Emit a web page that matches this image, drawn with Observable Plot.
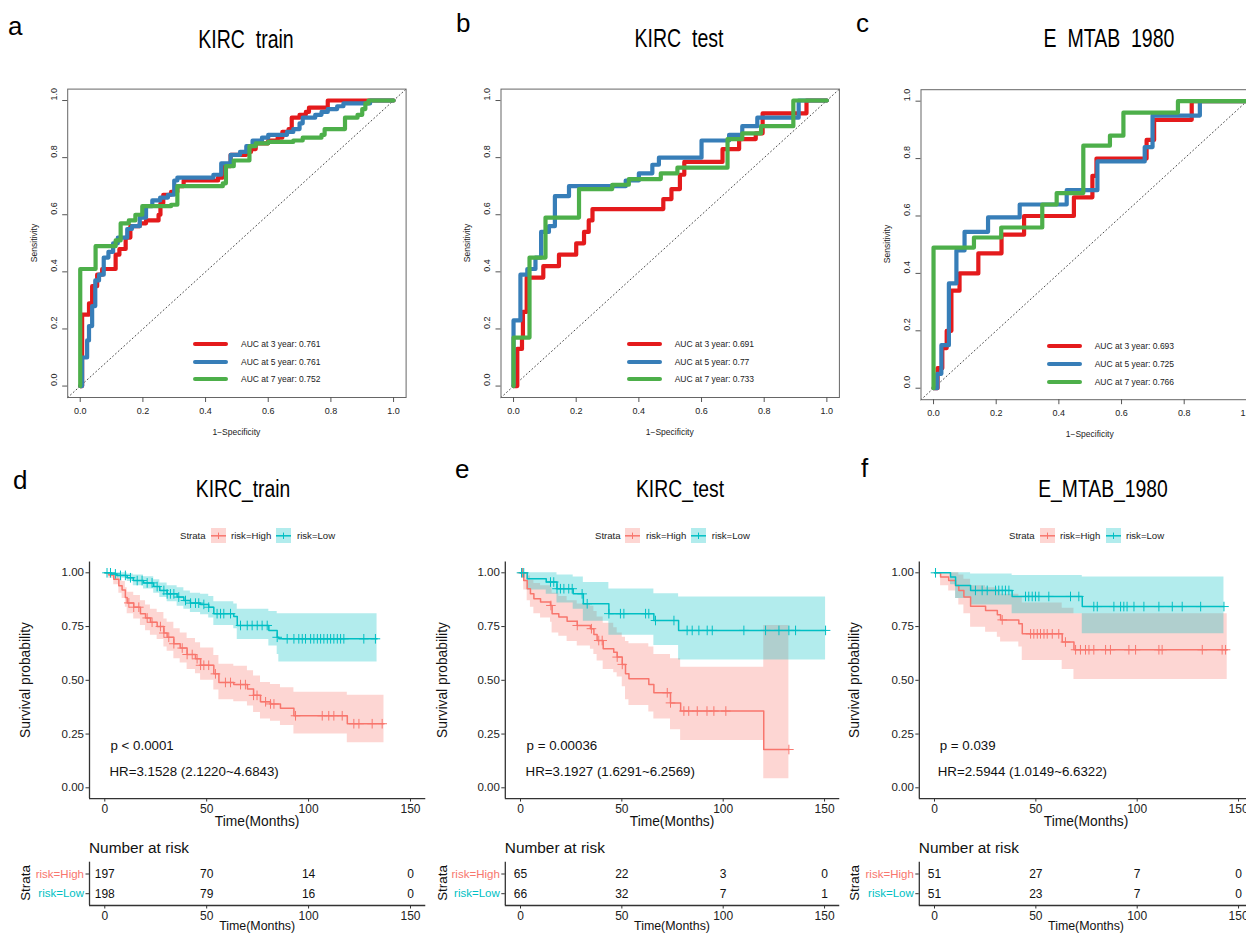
<!DOCTYPE html>
<html><head><meta charset="utf-8">
<script src="https://cdn.jsdelivr.net/npm/d3@7"></script>
<script src="https://cdn.jsdelivr.net/npm/@observablehq/plot@0.6"></script>
<style>
html,body{margin:0;padding:0;width:1246px;height:933px;overflow:hidden;background:#fff;}
#root{position:relative;width:1246px;height:933px;overflow:hidden;font-family:"Liberation Sans",Arial,Helvetica,sans-serif;color:#1a1a1a;}
.abs{position:absolute;}
.t{position:absolute;white-space:pre;line-height:1;}
</style></head><body><div id="root"></div><script>
// ---------------- DATA ----------------
// ROC curves: [1-specificity, sensitivity] corner points
const rocA3 = [[0,0],[0.006,0.25],[0.028,0.29],[0.038,0.35],[0.054,0.39],[0.07,0.41],[0.113,0.46],[0.125,0.48],[0.145,0.52],[0.16,0.56],[0.19,0.57],[0.21,0.58],[0.25,0.6],[0.256,0.64],[0.265,0.67],[0.29,0.68],[0.31,0.7],[0.33,0.72],[0.44,0.73],[0.455,0.77],[0.48,0.81],[0.53,0.82],[0.545,0.83],[0.56,0.85],[0.6,0.86],[0.63,0.87],[0.645,0.89],[0.665,0.9],[0.675,0.94],[0.7,0.95],[0.72,0.96],[0.73,0.975],[0.79,1],[1,1]];
const rocA5 = [[0,0],[0.006,0.1],[0.022,0.16],[0.028,0.21],[0.038,0.28],[0.048,0.37],[0.06,0.39],[0.075,0.45],[0.09,0.47],[0.105,0.5],[0.12,0.52],[0.15,0.55],[0.165,0.56],[0.19,0.59],[0.21,0.63],[0.23,0.65],[0.255,0.66],[0.28,0.67],[0.3,0.72],[0.31,0.73],[0.425,0.74],[0.45,0.78],[0.48,0.81],[0.51,0.82],[0.53,0.84],[0.55,0.86],[0.58,0.87],[0.6,0.88],[0.66,0.89],[0.68,0.9],[0.7,0.92],[0.71,0.94],[0.75,0.95],[0.77,0.96],[0.79,0.97],[0.82,0.98],[0.84,0.99],[0.925,1],[1,1]];
const rocA7 = [[0,0],[0,0.41],[0.049,0.49],[0.113,0.51],[0.129,0.57],[0.155,0.58],[0.176,0.6],[0.198,0.63],[0.29,0.635],[0.31,0.7],[0.455,0.71],[0.465,0.77],[0.49,0.79],[0.54,0.84],[0.56,0.85],[0.6,0.855],[0.68,0.86],[0.71,0.87],[0.77,0.88],[0.78,0.9],[0.845,0.94],[0.885,0.95],[0.9,0.97],[0.91,0.99],[0.92,1],[1,1]];
const rocB3 = [[0,0],[0.012,0.13],[0.027,0.17],[0.03,0.26],[0.042,0.38],[0.095,0.42],[0.145,0.46],[0.2,0.5],[0.225,0.54],[0.24,0.58],[0.252,0.62],[0.478,0.655],[0.504,0.69],[0.531,0.74],[0.545,0.785],[0.667,0.83],[0.72,0.865],[0.773,0.885],[0.795,0.955],[0.935,1],[1,1]];
const rocB5 = [[0,0],[0,0.23],[0.022,0.39],[0.044,0.41],[0.07,0.45],[0.088,0.54],[0.113,0.56],[0.132,0.665],[0.177,0.7],[0.358,0.72],[0.4,0.745],[0.443,0.775],[0.464,0.8],[0.6,0.86],[0.688,0.88],[0.73,0.91],[0.778,0.94],[0.91,1],[1,1]];
const rocB7 = [[0,0],[0,0.17],[0.051,0.45],[0.102,0.59],[0.209,0.69],[0.315,0.705],[0.368,0.725],[0.47,0.745],[0.523,0.765],[0.683,0.865],[0.73,0.885],[0.79,0.91],[0.893,1],[1,1]];
const rocC3 = [[0,0],[0.013,0.07],[0.028,0.14],[0.042,0.2],[0.057,0.34],[0.083,0.4],[0.143,0.47],[0.217,0.535],[0.289,0.6],[0.448,0.665],[0.507,0.74],[0.52,0.8],[0.68,0.865],[0.704,0.935],[0.824,1],[1,1]];
const rocC5 = [[0,0],[0.012,0.05],[0.025,0.15],[0.049,0.365],[0.073,0.48],[0.099,0.545],[0.174,0.595],[0.275,0.64],[0.425,0.69],[0.523,0.79],[0.674,0.84],[0.699,0.95],[0.85,1],[1,1]];
const rocC7 = [[0,0],[0,0.49],[0.129,0.525],[0.216,0.56],[0.347,0.64],[0.393,0.68],[0.478,0.845],[0.563,0.88],[0.606,0.96],[0.78,1],[1,1]];
const aucA = ["0.761","0.761","0.752"];
const aucB = ["0.691","0.77","0.733"];
const aucC = ["0.693","0.725","0.766"];
const aucYears = [3,5,7];
const rocTicks = [0,0.2,0.4,0.6,0.8,1];

// KM steps: [time, survival, lower, upper]
const kmD_high = [[0,1,1,1],[2,0.99,0.975,1],[4.4,0.97,0.945,0.995],[6.9,0.94,0.905,0.975],[8.5,0.92,0.88,0.96],[10.1,0.885,0.84,0.93],[11,0.86,0.81,0.91],[14.2,0.84,0.785,0.895],[17.5,0.81,0.755,0.87],[20,0.79,0.73,0.85],[22.4,0.77,0.71,0.83],[25.7,0.75,0.69,0.815],[29,0.72,0.655,0.785],[30.6,0.7,0.635,0.77],[33.9,0.67,0.6,0.74],[37,0.65,0.58,0.72],[40.4,0.62,0.55,0.695],[44.5,0.6,0.53,0.675],[47,0.57,0.5,0.65],[53.5,0.53,0.455,0.615],[56,0.49,0.41,0.575],[63.3,0.48,0.4,0.565],[70,0.46,0.38,0.545],[73,0.43,0.35,0.52],[76.4,0.4,0.32,0.49],[81.3,0.39,0.31,0.48],[86.2,0.37,0.29,0.465],[92.8,0.335,0.25,0.445],[119,0.298,0.21,0.43],[137,0.298,0.21,0.43]];
const kmD_low = [[0,1,1,1],[3,0.995,0.985,1],[6,0.988,0.975,1],[11,0.977,0.96,0.995],[14,0.964,0.94,0.99],[19,0.953,0.925,0.982],[24,0.936,0.905,0.968],[27,0.918,0.885,0.953],[30.6,0.902,0.865,0.94],[35.5,0.887,0.845,0.93],[38.8,0.871,0.83,0.915],[42,0.859,0.815,0.905],[47,0.853,0.805,0.9],[51,0.84,0.79,0.89],[53.5,0.81,0.755,0.865],[63.3,0.797,0.74,0.855],[65,0.755,0.69,0.83],[80.5,0.732,0.66,0.82],[84.6,0.7,0.62,0.81],[85.4,0.693,0.585,0.81],[133.6,0.693,0.585,0.81]];
const kmE_high = [[0,1,1,1],[1.6,0.964,0.92,1],[3.3,0.926,0.87,0.985],[4.9,0.902,0.84,0.965],[6.6,0.879,0.81,0.95],[9.9,0.864,0.79,0.94],[14.8,0.848,0.77,0.93],[15.6,0.81,0.72,0.905],[18.9,0.794,0.705,0.89],[23,0.775,0.68,0.87],[28,0.755,0.66,0.855],[34.5,0.74,0.645,0.845],[36.2,0.713,0.62,0.82],[37.8,0.685,0.59,0.795],[40.8,0.647,0.55,0.765],[46,0.631,0.535,0.745],[47.7,0.608,0.515,0.72],[50.2,0.574,0.47,0.7],[51.8,0.53,0.41,0.68],[53.5,0.507,0.383,0.67],[63.3,0.481,0.352,0.655],[65.8,0.442,0.32,0.62],[74,0.395,0.27,0.6],[79,0.357,0.22,0.561],[120,0.178,0.042,0.755],[132.4,0.178,0.042,0.755]];
const kmE_low = [[0,1,1,1],[3.3,0.972,0.92,1],[12.7,0.957,0.9,1],[18,0.926,0.86,0.99],[26,0.902,0.83,0.98],[31,0.856,0.775,0.955],[43.6,0.81,0.71,0.925],[65.8,0.778,0.662,0.902],[78,0.732,0.595,0.887],[150.5,0.732,0.595,0.887]];
const kmF_high = [[0,1,1,1],[3,0.98,0.94,1],[7,0.964,0.915,1],[10.4,0.941,0.88,1],[12,0.918,0.85,0.99],[14.5,0.887,0.81,0.97],[17.8,0.845,0.747,0.94],[25.2,0.825,0.724,0.93],[31,0.805,0.7,0.915],[32.6,0.781,0.678,0.9],[41.6,0.763,0.655,0.89],[43.3,0.716,0.592,0.86],[63,0.678,0.55,0.835],[68.8,0.642,0.504,0.81],[144.4,0.642,0.504,0.81]];
const kmF_low = [[0,1,1,1],[7.9,0.98,0.945,1],[10.4,0.941,0.88,1],[17.8,0.918,0.85,0.995],[38.3,0.89,0.81,0.988],[72.9,0.843,0.716,0.98],[142.8,0.843,0.716,0.98]];

// censoring times (months)
const censD_high = [11.8,14.2,16.7,20.8,23.2,27.3,29,31.4,33.9,38,40.4,42.9,45.3,47,48.6,51,54.3,59.2,61.7,66.6,69,73,74.7,78.9,81.3,83,93.6,106.7,109.9,112.4,116.5,122.2,124.7,131.2,136.1];
const censD_low = [1.1,2.8,5.2,7.7,10.1,12.6,15.9,18.3,20.8,23.2,25.7,29,30.6,32.2,33.9,36.3,39.6,42.1,44.5,46.1,48.6,51,55.1,56.8,58.4,61.7,66.6,69.9,72.3,74.8,77.2,79.7,84.6,89.5,92.8,95.2,96.9,98.5,101,102.6,104.3,105.9,107.5,109.2,110.8,112.4,114.1,115.7,117.3,127.1,132.8];
const censE_high = [1,15,28,35,38.6,40.3,47.7,50.2,72.4,74,80.6,83,87.2,92,95.4,101.3,132.4];
const censE_low = [0.5,1.6,14.8,16.4,18,19.7,21.4,23.8,25.5,30.4,32.9,43.6,49.3,51,61.7,63.3,66.6,75.7,82.2,84.7,88,92.1,94.6,110.2,120.9,127.5,132.4,135.7,150.5];
const censF_high = [33.4,47.4,49,50.7,52.3,54,55.6,58.1,61.3,64.6,69.6,72,74.5,76.2,78.6,84.4,86.8,95.9,99.2,110.7,112.3,132.1,141.9,143.6];
const censF_low = [0.5,20.2,23.5,26,30.1,31.7,33.4,35,36.7,44.9,46.5,48.2,49.8,51.5,56.4,67.1,71.2,78.6,80.3,88.5,91.8,93.4,95,98.4,103.3,110.7,117.3,122.2,131.3,142.8];

// numbers at risk
const riskTimes = [0,50,100,150];
const riskGroups = ["risk=High","risk=Low"];
const riskD_high = [197,70,14,0], riskD_low = [198,79,16,0];
const riskE_high = [65,22,3,0],  riskE_low = [66,32,7,1];
const riskF_high = [51,27,7,0],  riskF_low = [51,23,7,0];

const kmTicksX = [0,50,100,150];
const kmTicksY = [0,0.25,0.5,0.75,1];

// ---------------- RENDER ----------------
const FONT = '"Liberation Sans", Arial, Helvetica, sans-serif';
const RED="#E41A1C", BLUE="#377EB8", GREEN="#4DAF4A", HI="#F8766D", LO="#00BFC4";
const root = document.getElementById("root");

function txt(s, x, cy, o={}) {
  const {size=12, anchor="start", rotate=0, color="#1a1a1a", sx=1} = o;
  const d=document.createElement("div");
  d.className="t"; d.textContent=s;
  Object.assign(d.style,{left:x+"px",top:cy+"px",fontSize:size+"px",color});
  const tx = anchor==="start"?"0%":anchor==="middle"?"-50%":"-100%";
  const ox = anchor==="start"?"0%":anchor==="middle"?"50%":"100%";
  d.style.transformOrigin = `${ox} 50%`;
  d.style.transform = `translate(${tx},-50%)` + (rotate?` rotate(${rotate}deg)`:"") + (sx!==1?` scaleX(${sx})`:"");
  root.appendChild(d);
}
function place(svg, left, top, w) {
  const d=document.createElement("div");
  d.className="abs"; d.style.left=left+"px"; d.style.top=top+"px"; d.style.width=w+"px";
  d.appendChild(svg); root.appendChild(d);
}
function survAt(steps, t) {
  let s = steps[0][1];
  for (const st of steps) { if (st[0] <= t) s = st[1]; else break; }
  return s;
}

// ROC panels
function rocPanel(cfg) {
  const W=430, H=450, dom=[-0.04,1.04];
  const colors=[RED,BLUE,GREEN];
  const svg = Plot.plot({
    width:W, height:H, marginLeft:cfg.mL, marginRight:W-cfg.mL-338.4, marginTop:cfg.mT, marginBottom:cfg.mB,
    x:{domain:dom}, y:{domain:dom},
    style:{fontFamily:FONT, background:"transparent", overflow:"visible", maxWidth:"none"},
    marks:[
      Plot.line(dom.map(v=>[v,v]), {x:d=>d[0], y:d=>d[1], stroke:"#333", strokeWidth:0.9, strokeDasharray:"1,2.8"}),
      ...cfg.curves.map((c,i)=>Plot.line(c, {x:d=>d[0], y:d=>d[1], curve:"step-after", stroke:colors[i], strokeWidth:4.2})),
      Plot.frame({stroke:"#666", strokeWidth:1}),
      Plot.axisX({ticks:rocTicks, tickSize:5, tickPadding:5, fontSize:9, tickFormat:d3.format(".1f"), label:null, stroke:"#555", fill:"#222"}),
      Plot.axisY({ticks:rocTicks, tickSize:5, tickFormat:()=>"", label:null, stroke:"#555"}),
      Plot.text(rocTicks, {y:d=>d, text:d=>d3.format(".1f")(d), frameAnchor:"left", rotate:-90, dx:-14, fontSize:9, fill:"#222"})
    ]
  });
  place(svg, cfg.left, 0, W);
  const boxL = cfg.left+cfg.mL, boxT=cfg.mT, boxB=H-cfg.mB;
  txt(cfg.title, cfg.titleX, cfg.titleY, {size:25, anchor:"middle", sx:0.78, color:"#000"});
  txt(cfg.letter, cfg.letterX, cfg.letterY, {size:26, color:"#000"});
  txt("Sensitivity", boxL-33.7, (boxT+boxB)/2, {size:8.5, anchor:"middle", rotate:-90, color:"#222"});
  txt("1\u2212Specificity", boxL+169.2, boxB+35, {size:8.5, anchor:"middle", color:"#222"});
  cfg.auc.forEach((a,i)=>{
    const y = cfg.legY[i];
    const ln=document.createElement("div");
    ln.className="abs";
    Object.assign(ln.style,{left:cfg.legX+"px", top:(y-2)+"px", width:"35px", height:"4.2px", background:colors[i], borderRadius:"2px"});
    root.appendChild(ln);
    txt(`AUC at ${aucYears[i]} year: ${a}`, cfg.legX+48, y, {size:8.5, color:"#222"});
  });
}
rocPanel({left:0, mL:67.2, mT:88.6, mB:53, curves:[rocA3,rocA5,rocA7], auc:aucA, title:"KIRC  train", titleX:246, titleY:39, letter:"a", letterX:8, letterY:26, legX:193, legY:[344,361.7,379.3]});
rocPanel({left:420, mL:80.5, mT:88.6, mB:53, curves:[rocB3,rocB5,rocB7], auc:aucB, title:"KIRC  test", titleX:679, titleY:37.5, letter:"b", letterX:456, letterY:23, legX:626.7, legY:[344,361.7,379.3]});
rocPanel({left:840, mL:80.5, mT:89.2, mB:50.8, curves:[rocC3,rocC5,rocC7], auc:aucC, title:"E  MTAB  1980", titleX:1109, titleY:37.5, letter:"c", letterX:856, letterY:23, legX:1046.7, legY:[346,363.7,381.7]});

// KM panels
function kmPanel(cfg) {
  const W=440, xDom=[-7.5,157.5], yDom=[-0.05,1.05];
  const mR = W - cfg.mL - 165*cfg.ppm;
  const svg = Plot.plot({
    width:W, height:300, marginLeft:cfg.mL, marginRight:mR, marginTop:11.55, marginBottom:51.95,
    x:{domain:xDom}, y:{domain:yDom},
    style:{fontFamily:FONT, background:"transparent", overflow:"visible", maxWidth:"none"},
    marks:[
      Plot.areaY(cfg.high, {x:d=>d[0], y1:d=>d[2], y2:d=>d[3], curve:"step-after", fill:HI, fillOpacity:0.3}),
      Plot.areaY(cfg.low, {x:d=>d[0], y1:d=>d[2], y2:d=>d[3], curve:"step-after", fill:LO, fillOpacity:0.3}),
      Plot.line(cfg.high, {x:d=>d[0], y:d=>d[1], curve:"step-after", stroke:HI, strokeWidth:1.5}),
      Plot.line(cfg.low, {x:d=>d[0], y:d=>d[1], curve:"step-after", stroke:LO, strokeWidth:1.5}),
      Plot.dot(cfg.cHigh, {x:d=>d, y:d=>survAt(cfg.high,d), symbol:"plus", r:3.2, stroke:HI, strokeWidth:1}),
      Plot.dot(cfg.cLow, {x:d=>d, y:d=>survAt(cfg.low,d), symbol:"plus", r:3.2, stroke:LO, strokeWidth:1}),
      Plot.ruleX([xDom[0]], {stroke:"#333", strokeWidth:1.3}),
      Plot.ruleY([yDom[0]], {stroke:"#333", strokeWidth:1.3}),
      Plot.axisX({ticks:kmTicksX, tickSize:3.5, tickPadding:2, fontSize:12, label:null, stroke:"#333", fill:"#222"}),
      Plot.axisY({ticks:kmTicksY, tickSize:3.5, tickPadding:2, fontSize:11.5, tickFormat:d3.format(".2f"), label:null, stroke:"#333", fill:"#222"}),
      Plot.text(cfg.notes, {x:"t", y:"s", text:"text", textAnchor:"start", fontSize:13.3, fill:"#111"})
    ]
  });
  place(svg, cfg.left, 550, W);

  // risk table
  const rows = [];
  cfg.risk.forEach((arr,gi)=>arr.forEach((n,j)=>rows.push({t:riskTimes[j], g:gi, n})));
  const tbl = Plot.plot({
    width:W, height:80, marginLeft:cfg.mL, marginRight:mR, marginTop:6.7, marginBottom:30,
    x:{domain:xDom}, y:{domain:[1.6,-0.6]},
    style:{fontFamily:FONT, background:"transparent", overflow:"visible", maxWidth:"none"},
    marks:[
      Plot.text(rows, {x:"t", y:"g", text:"n", fontSize:12, fill:"#111"}),
      Plot.ruleX([xDom[0]], {stroke:"#333", strokeWidth:1.3}),
      Plot.ruleY([1.6], {stroke:"#333", strokeWidth:1.3}),
      Plot.axisX({ticks:kmTicksX, tickSize:3.5, tickPadding:2, fontSize:12, label:null, stroke:"#333", fill:"#222"}),
      Plot.axisY({ticks:[0,1], tickSize:3.5, tickFormat:()=>"", label:null, stroke:"#333"}),
      Plot.text([riskGroups[0]], {y:0, text:d=>d, frameAnchor:"left", textAnchor:"end", dx:-5.5, fontSize:11.5, fill:HI}),
      Plot.text([riskGroups[1]], {y:1, text:d=>d, frameAnchor:"left", textAnchor:"end", dx:-5.5, fontSize:11.5, fill:LO})
    ]
  });
  place(tbl, cfg.left, 855, W);

  const axL = cfg.left + cfg.mL;
  const ctr = axL + 165*cfg.ppm/2;
  txt(cfg.title, cfg.titleX, 488.5, {size:23, anchor:"middle", sx:0.84, color:"#000"});
  txt(cfg.letter, cfg.letterX, cfg.letterY, {size:26, color:"#000"});
  txt("Survival probability", cfg.ylabX, 680, {size:13.8, anchor:"middle", rotate:-90, color:"#111"});
  txt("Time(Months)", ctr, 822.3, {size:13.8, anchor:"middle", color:"#111"});
  txt("Number at risk", axL, 848.3, {size:15.4, color:"#111"});
  txt("Strata", cfg.ylabX, 883, {size:13.4, anchor:"middle", rotate:-90, color:"#111"});
  txt("Time(Months)", ctr, 926.2, {size:12.4, anchor:"middle", color:"#111"});
  // legend
  const L = cfg.leg;
  txt("Strata", L[0], 535.7, {size:9.6, color:"#222"});
  [[L[1],HI,riskGroups[0],L[2]],[L[3],LO,riskGroups[1],L[4]]].forEach(([kx,col,lab,tx])=>{
    const k=document.createElement("div");
    k.className="abs";
    Object.assign(k.style,{left:kx+"px", top:"527.9px", width:"15px", height:"15.6px"});
    k.innerHTML = `<svg width="15" height="15.6" style="display:block"><rect width="15" height="15.6" fill="${col}" fill-opacity="0.3"/><line x1="0" x2="15" y1="7.8" y2="7.8" stroke="${col}" stroke-width="1.5"/><line x1="7.5" x2="7.5" y1="4.6" y2="11" stroke="${col}" stroke-width="1"/></svg>`;
    root.appendChild(k);
    txt(lab, tx, 535.7, {size:9.6, color:"#222"});
  });
}
kmPanel({left:0, mL:89, ppm:2.038, high:kmD_high, low:kmD_low, cHigh:censD_high, cLow:censD_low,
  risk:[riskD_high, riskD_low], notes:[{t:2.8,s:0.197,text:"p < 0.0001"},{t:2.3,s:0.076,text:"HR=3.1528 (2.1220~4.6843)"}],
  title:"KIRC_train", titleX:243, letter:"d", letterX:13, letterY:480, ylabX:26, leg:[180,210.7,231,276,297]});
kmPanel({left:420, mL:84.8, ppm:2.027, high:kmE_high, low:kmE_low, cHigh:censE_high, cLow:censE_low,
  risk:[riskE_high, riskE_low], notes:[{t:3,s:0.197,text:"p = 0.00036"},{t:2.5,s:0.076,text:"HR=3.1927 (1.6291~6.2569)"}],
  title:"KIRC_test", titleX:680, letter:"e", letterX:455, letterY:469, ylabX:442.7, leg:[595,625,646,691,711.7]});
kmPanel({left:840, mL:78.8, ppm:2.027, high:kmF_high, low:kmF_low, cHigh:censF_high, cLow:censF_low,
  risk:[riskF_high, riskF_low], notes:[{t:2.6,s:0.197,text:"p = 0.039"},{t:1.6,s:0.076,text:"HR=2.5944 (1.0149~6.6322)"}],
  title:"E_MTAB_1980", titleX:1103.3, letter:"f", letterX:861, letterY:468, ylabX:855, leg:[1009,1040,1060,1105.7,1126]});
</script></body></html>
